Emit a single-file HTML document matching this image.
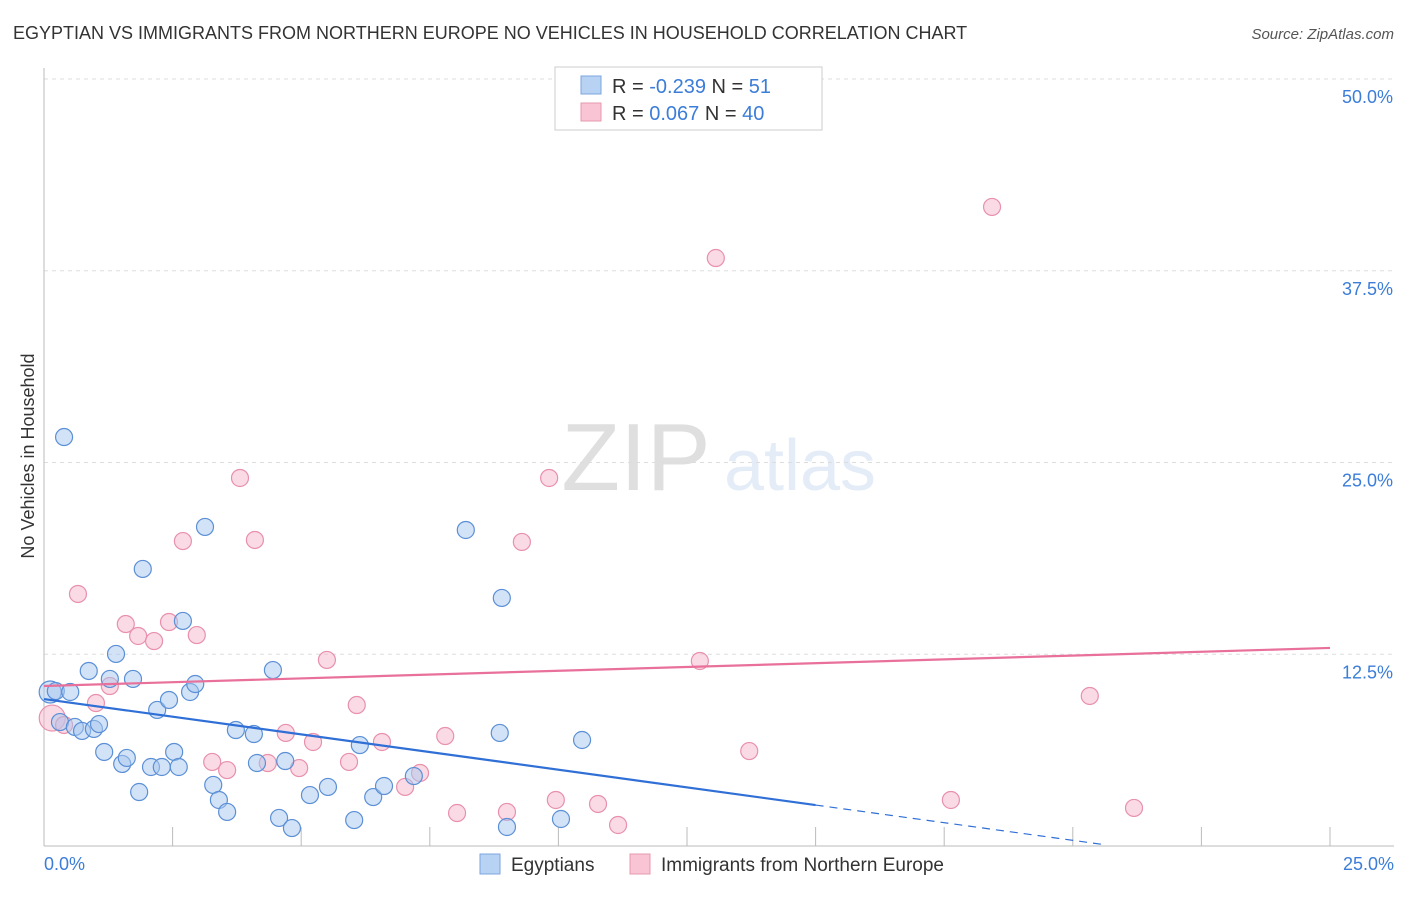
<!DOCTYPE html>
<html><head><meta charset="utf-8"><style>
body{margin:0;background:#fff;font-family:"Liberation Sans",sans-serif;}
svg text{font-family:"Liberation Sans",sans-serif;}
</style></head><body>
<svg id="chart" width="1406" height="892" xmlns="http://www.w3.org/2000/svg">
<text x="13" y="39" font-size="18" fill="#333">EGYPTIAN VS IMMIGRANTS FROM NORTHERN EUROPE NO VEHICLES IN HOUSEHOLD CORRELATION CHART</text>
<text x="1394" y="39" font-size="15" fill="#555" text-anchor="end" font-style="italic">Source: ZipAtlas.com</text>
<text transform="translate(34,456) rotate(-90)" font-size="18" fill="#333" text-anchor="middle">No Vehicles in Household</text>
<g opacity="0.18"><text x="636" y="490" font-size="96" font-family="Liberation Serif" fill="#555" text-anchor="middle">ZIP</text><text x="800" y="490" font-size="72" fill="#6b9bd8" text-anchor="middle">atlas</text></g>
<g id="grid"></g><g id="axes"></g><g id="marks"></g>
<g>
<rect x="555" y="67" width="267" height="63" fill="#fff" stroke="#ccc"/>
<rect x="581" y="76" width="20" height="18" fill="#b8d2f4" stroke="#7aa6dd"/>
<rect x="581" y="103" width="20" height="18" fill="#f9c4d4" stroke="#e898b2"/>
<text x="612" y="93" font-size="20" fill="#333">R = <tspan fill="#3b7dd8">-0.239</tspan>   N =  <tspan fill="#3b7dd8">51</tspan></text>
<text x="612" y="120" font-size="20" fill="#333">R =  <tspan fill="#3b7dd8">0.067</tspan>   N = <tspan fill="#3b7dd8">40</tspan></text>
</g>
<g>
<rect x="480" y="854" width="20" height="20" fill="#b8d2f4" stroke="#7aa6dd"/>
<text x="511" y="871" font-size="19" fill="#333">Egyptians</text>
<rect x="630" y="854" width="20" height="20" fill="#f9c4d4" stroke="#e898b2"/>
<text x="661" y="871" font-size="19" fill="#333">Immigrants from Northern Europe</text>
</g>
</svg>
<script>
const blueX=[0.39,0.12,0.23,0.51,0.31,0.60,0.74,0.97,1.07,0.87,1.17,1.28,1.40,1.52,1.61,1.73,1.85,1.92,2.08,2.20,2.29,2.43,2.53,2.62,2.70,2.84,2.94,3.13,3.29,3.40,3.56,3.73,4.08,4.14,4.57,4.69,4.82,4.45,5.17,5.52,6.03,6.14,6.40,6.61,7.19,8.20,8.90,8.86,9.00,10.05,10.46];
const blueY=[26.66,10.04,10.10,10.04,8.08,7.76,7.50,7.63,7.95,11.41,6.13,10.89,12.52,5.35,5.74,10.89,3.52,18.06,5.15,8.87,5.15,9.52,6.13,5.15,14.67,10.04,10.56,20.80,3.98,3.00,2.22,7.56,7.30,5.41,1.83,5.54,1.17,11.47,3.32,3.85,1.69,6.58,3.19,3.91,4.56,20.60,16.17,7.37,1.24,1.76,6.91];
const pinkX=[0.16,0.39,0.66,1.01,1.28,1.59,1.83,2.14,2.43,2.70,2.97,3.27,3.56,3.81,4.10,4.35,4.70,4.96,5.23,5.50,5.93,6.08,6.57,7.02,7.31,7.80,8.03,9.00,9.82,9.29,9.95,10.77,11.16,12.75,13.06,13.71,17.63,18.43,20.33,21.19];
const pinkY=[8.34,7.89,16.43,9.32,10.43,14.47,13.69,13.36,14.60,19.88,13.75,5.48,4.95,23.99,19.95,5.41,7.37,5.08,6.78,12.13,5.48,9.19,6.78,3.85,4.76,7.17,2.15,2.22,23.99,19.82,3.00,2.74,1.37,12.06,38.33,6.19,3.00,41.66,9.78,2.48];
const blueTrend=[9.58,2.67,15,20.65,0.07];
const pinkTrend=[10.43,12.91];
const yTicks=[12.5,25,37.5,50];
const xTickLabels=["0.0%","25.0%"];
const NS="http://www.w3.org/2000/svg";
const X=v=>44+v*51.44, Y=v=>846-v*15.34;
function mk(p,t,a){const e=document.createElementNS(NS,t);for(const k in a)e.setAttribute(k,a[k]);p.appendChild(e);return e;}
const grid=document.getElementById('grid'),axes=document.getElementById('axes'),marks=document.getElementById('marks');
yTicks.forEach(t=>{
 const l=mk(grid,'line',{x1:44,x2:1394,y1:Y(t),y2:Y(t),stroke:'#ddd','stroke-dasharray':'4,4'});
 
 
 const tx=mk(grid,'text',{x:1393,y:Y(t)+24,'font-size':18,fill:'#3b7dd8','text-anchor':'end'});
 tx.textContent=t.toFixed(1)+'%';
 
 
});
const ya=mk(axes,'line',{x1:44,x2:44,y1:68,y2:846,stroke:'#bbb'});


const xa=mk(axes,'line',{x1:44,x2:1394,y1:846,y2:846,stroke:'#bbb'});


for(let i=0;i<=10;i++){const v=i*2.5;const tk=mk(axes,'line',{x1:X(v),x2:X(v),y1:827,y2:846,stroke:'#bbb'});
 
 }
[[0,'start',44],[25,'end',1394]].forEach((d,i)=>{const t=mk(axes,'text',{x:d[2],y:870,'font-size':18,fill:'#3b7dd8','text-anchor':d[1]});t.textContent=xTickLabels[i];
 
 });
function dots(xs,ys,fill,stroke,name){xs.forEach((x,i)=>{const r=(i===0&&name==='pink')?13:(i===1&&name==='blue')?11:8.5;
 const c=mk(marks,'circle',{cx:X(x),cy:Y(ys[i]),r:r,fill:fill,'fill-opacity':0.5,stroke:stroke,'stroke-width':1.2});
 
 });}
dots(pinkX,pinkY,'#f5b8cb','#e890ac','pink');
dots(blueX,blueY,'#a8c8f0','#5b8fd6','blue');
const bl=mk(marks,'line',{x1:X(0),y1:Y(blueTrend[0]),x2:X(blueTrend[2]),y2:Y(blueTrend[1]),stroke:'#2f6fd6','stroke-width':2.2});


const bd=mk(marks,'line',{x1:X(blueTrend[2]),y1:Y(blueTrend[1]),x2:X(blueTrend[3]),y2:Y(blueTrend[4]),stroke:'#2f6fd6','stroke-width':1.2,'stroke-dasharray':'8,6'});


const pl=mk(marks,'line',{x1:X(0),y1:Y(pinkTrend[0]),x2:X(25),y2:Y(pinkTrend[1]),stroke:'#e8709a','stroke-width':2.2});


</script>
</body></html>
